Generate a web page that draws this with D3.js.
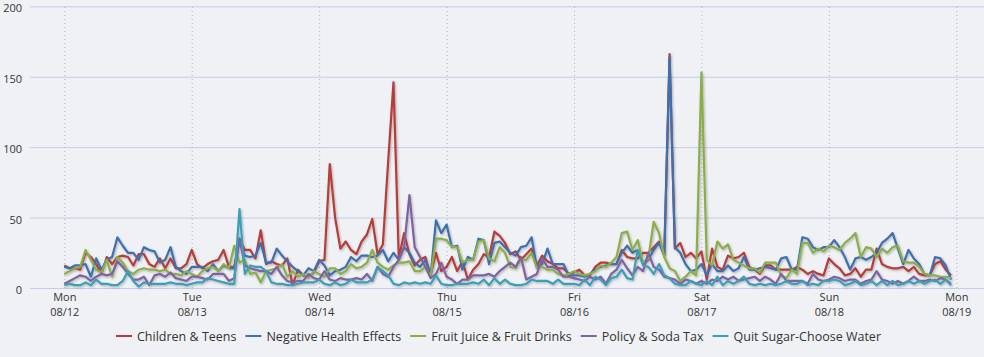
<!DOCTYPE html>
<html><head><meta charset="utf-8">
<script src="https://cdn.jsdelivr.net/npm/d3@7"></script>
<style>
html,body{margin:0;padding:0;background:#eff1f4;}
svg{display:block;font-family:"Open Sans","Noto Sans",sans-serif;}
</style></head>
<body><svg id="chart" width="984" height="357"></svg>
<script>
const seriesNames = ["Children & Teens","Negative Health Effects","Fruit Juice & Fruit Drinks","Policy & Soda Tax","Quit Sugar-Choose Water"];
const seriesColors = ["#b53c3b","#3e70ae","#8cae4a","#7f62a2","#3a9fb8"];
const dayLabels = ["Mon","Tue","Wed","Thu","Fri","Sat","Sun","Mon"];
const dateLabels = ["08/12","08/13","08/14","08/15","08/16","08/17","08/18","08/19"];
const yTicks = [0,50,100,150,200];

const childrenTeens = [
16,14,14,13,25,22,17,10,22,17,22,23,22,16,24,24,17,15,21,14,21,14,14,17,
27,17,14,17,19,20,27,15,15,35,27,27,21,41,17,19,17,16,21,2,13,9,8,11,
19,20,88,50,28,33,27,24,33,38,49,24,31,90,146,21,39,24,16,20,22,9,25,12,
15,22,12,19,6,13,17,24,22,40,37,32,24,26,20,24,28,16,23,19,17,14,14,10,
11,13,9,9,15,18,18,17,17,27,22,21,21,25,25,29,33,23,166,28,32,22,25,21,
26,6,28,15,13,23,21,22,25,15,13,10,16,16,13,13,13,13,15,13,10,12,10,9,
21,17,14,9,10,14,8,13,13,28,17,15,14,14,15,12,15,10,9,9,17,19,13,9];
const negativeHealth = [
15,14,16,16,17,8,21,13,20,22,36,30,25,25,20,29,27,26,18,20,29,15,12,10,
15,15,15,12,17,12,16,14,14,34,23,22,23,32,18,18,28,23,19,15,12,9,14,12,
20,16,9,12,13,15,22,19,23,23,22,23,27,19,25,20,29,25,18,15,20,9,48,39,
45,29,30,13,22,20,35,34,17,32,33,29,25,23,29,30,36,15,17,28,17,17,17,9,
9,9,8,10,13,15,16,17,17,25,30,25,27,17,20,27,32,23,164,29,25,17,12,13,
17,9,17,12,12,16,12,14,22,13,13,14,15,14,13,21,22,13,13,36,35,29,27,29,
29,34,29,22,13,21,22,20,22,25,32,35,39,28,17,27,21,17,10,9,22,21,16,6];
const fruitJuice = [
10,12,14,15,27,20,13,11,20,8,22,18,12,10,13,14,13,13,12,13,10,10,9,12,
10,8,12,14,15,12,17,14,30,18,20,10,11,4,12,13,14,17,8,12,8,10,7,12,
10,8,14,14,10,12,17,14,15,18,27,18,15,13,16,18,18,19,12,12,15,8,35,35,
34,29,29,18,20,20,33,34,21,19,29,25,15,14,20,20,25,14,15,13,13,10,9,10,
12,10,9,10,12,16,15,18,22,39,40,27,34,18,21,47,39,22,14,12,5,8,12,9,
153,20,16,33,28,31,20,18,16,14,14,11,18,18,18,9,7,13,10,32,32,25,28,26,
30,29,27,32,35,39,22,29,28,22,28,25,29,30,19,18,18,15,10,9,9,8,8,7];
const policySodaTax = [
3,5,7,9,8,5,8,10,9,10,19,15,10,6,6,8,2,9,10,8,11,7,6,5,
8,8,7,6,10,10,10,5,7,35,16,14,13,12,12,10,15,9,5,4,5,5,10,7,
6,12,6,5,7,6,6,7,6,10,5,15,10,8,15,20,29,66,29,22,15,7,10,18,
8,6,3,6,6,9,9,9,10,8,12,15,18,15,22,6,8,10,21,15,15,13,8,8,
7,6,5,8,6,8,3,10,13,20,14,9,15,12,25,15,13,8,7,6,3,6,5,3,
5,3,6,5,8,6,8,5,6,7,8,5,8,6,3,10,5,5,5,5,3,10,6,5,
6,8,7,5,6,6,3,5,6,12,6,5,3,5,3,5,8,5,5,6,5,7,6,3];
const quitSugar = [
2,3,2,2,4,2,6,3,3,2,2,5,12,5,1,4,3,3,3,3,4,3,3,2,
3,4,4,7,6,5,4,3,3,56,10,16,15,15,12,4,3,3,2,2,3,4,4,4,
6,3,2,4,2,3,6,4,4,4,6,15,12,9,3,2,4,3,4,3,4,3,9,3,
2,2,3,3,3,4,3,6,2,7,3,6,3,2,2,3,6,5,5,5,3,6,3,3,
3,2,6,2,8,6,2,7,8,13,7,6,27,16,15,10,17,9,7,3,2,2,5,3,
2,5,2,8,2,5,3,5,8,3,2,3,2,3,2,3,5,3,3,5,2,3,2,5,
5,6,5,2,3,5,2,3,5,2,5,2,5,2,3,5,3,5,3,5,6,3,6,2];

const allSeries = [childrenTeens, negativeHealth, fruitJuice, policySodaTax, quitSugar];

const W = 984, H = 357;
const svg = d3.select("#chart");
const start = new Date(2019, 7, 12, 0);
const end = new Date(2019, 7, 19, 0);
const x = d3.scaleTime().domain([start, end]).range([64.3, 956.3]);
const y = d3.scaleLinear().domain([0, 200]).range([288, 6.3]);
const gridLeft = 30;
const FONT = '"Open Sans","Noto Sans",sans-serif';

const defs = svg.append("defs");
const f = defs.append("filter").attr("id","shadow").attr("x","-5%").attr("y","-5%").attr("width","110%").attr("height","115%");
f.append("feDropShadow").attr("dx",1).attr("dy",1.2).attr("stdDeviation",0.9).attr("flood-color","#000").attr("flood-opacity",0.28);

// horizontal grid + y labels
const gy = svg.append("g").attr("transform", `translate(${gridLeft},0)`)
  .call(d3.axisLeft(y).tickValues(yTicks).tickSize(-(W - gridLeft)).tickPadding(8));
gy.select(".domain").remove();
gy.selectAll(".tick line").attr("stroke", "#c3cce7").attr("stroke-width", 1);
gy.selectAll(".tick text").attr("fill", "#333").attr("dy", "0.5em").style("font-size", "11px")
  .style("font-family", FONT);

// vertical dotted grid + x labels
const days = d3.timeDay.range(start, d3.timeDay.offset(end, 1));
const gx = svg.append("g").attr("transform", "translate(0,288)")
  .call(d3.axisBottom(x).tickValues(days).tickSize(-(288 - 6.3)).tickFormat(""));
gx.select(".domain").remove();
gx.selectAll(".tick line").attr("stroke", "#a8b2dc").attr("stroke-width", 1).attr("stroke-dasharray", "1,3").attr("y2", -(288-6.3)).attr("y1", 0);
gx.selectAll(".tick").each(function(d, i) {
  const t = d3.select(this).append("text").attr("fill", "#333").attr("text-anchor", "middle")
    .style("font-size", "11px").style("font-family", FONT);
  t.append("tspan").attr("x", 0).attr("y", 13).text(dayLabels[i]);
  t.append("tspan").attr("x", 0).attr("y", 28).text(dateLabels[i]);
});

// lines
const line = d3.line()
  .x((v, i) => x(d3.timeHour.offset(start, i)))
  .y(v => y(v))
  .curve(d3.curveLinear);
const lg = svg.append("g").attr("filter", "url(#shadow)");
allSeries.forEach((s, k) => {
  lg.append("path").datum(s)
    .attr("d", line)
    .attr("fill", "none")
    .attr("stroke", seriesColors[k])
    .attr("stroke-width", 2.2)
    .attr("stroke-linejoin", "round");
});

// legend
const leg = svg.append("g");
const items = [];
seriesNames.forEach((name, k) => {
  const g = leg.append("g");
  g.append("line").attr("x1", 0).attr("x2", 16).attr("y1", 0).attr("y2", 0)
    .attr("stroke", seriesColors[k]).attr("stroke-width", 2);
  const t = g.append("text").attr("x", 21).attr("y", 4.5).attr("fill", "#333")
    .style("font-size", "12.5px").style("font-family", FONT).text(name);
  const w = 21 + t.node().getComputedTextLength();
  items.push({g, w});
});
const gap = 9;
const total = d3.sum(items, d => d.w) + gap * (items.length - 1);
let px = 498.5 - total / 2;
items.forEach(it => { it.g.attr("transform", `translate(${px},336)`); px += it.w + gap; });
</script></body></html>
